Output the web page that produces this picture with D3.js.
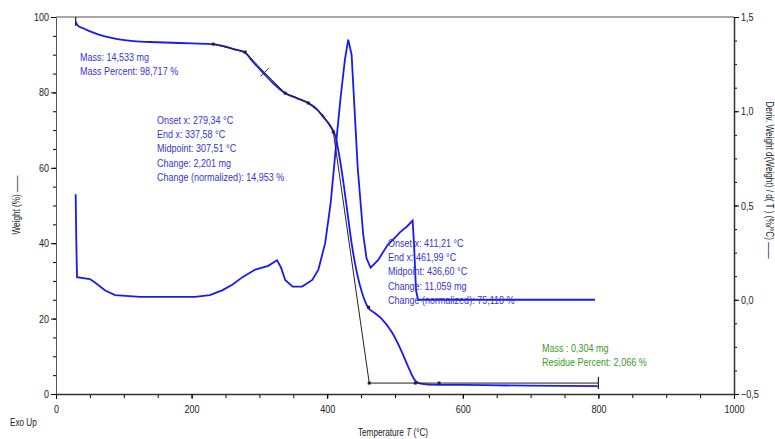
<!DOCTYPE html>
<meta charset="utf-8">
<html>
<head>
<style>
  body { margin: 0; background: #fff; }
  svg text { font-family: "Liberation Sans", Arial, sans-serif; }
  .tick text { font-size: 11px; fill: #222; }
  .note { font-size: 11px; fill: #3535d0; }
  .green { font-size: 11px; fill: #3a9a2a; }
</style>
</head>
<body>
<div id="tga"></div>
<script src="https://d3js.org/d3.v7.min.js"></script>
<script>
// weight curve (TGA), temperature in °C and weight in %
var tgaT = [29, 32, 40, 46, 60, 80, 114, 150, 200, 232, 262, 279, 291, 306, 320, 338, 355, 372, 385, 394, 405, 412, 418, 424, 430, 436, 444, 452, 460, 470, 480, 495, 508, 520, 528, 536, 550, 600, 700, 799];
var tgaW = [98.7, 97.8, 97, 96.5, 95.5, 94.5, 93.6, 93.3, 93.0, 92.8, 91.5, 90.5, 88, 85.1, 82.5, 79.8, 78.5, 77.2, 75.5, 73.5, 71, 68.5, 63, 56, 48, 40, 32, 26.5, 23, 21.5, 20, 16.5, 12, 7, 4, 2.8, 2.5, 2.4, 2.2, 2.1];

// derivative curve (DTG), %/°C
var dtgT = [29, 30, 31, 40, 50, 58, 72, 87, 124, 205, 227, 245, 260, 275, 294, 313, 326, 332, 338, 349, 363, 378, 387, 397, 405, 410, 415, 420, 426, 431, 436, 439, 445, 453, 458, 464, 475, 489, 500, 508, 518, 526, 528, 531, 534, 600, 700, 795];
var dtgD = [0.56, 0.3, 0.12, 0.115, 0.11, 0.09, 0.05, 0.025, 0.015, 0.015, 0.025, 0.05, 0.08, 0.12, 0.16, 0.18, 0.21, 0.17, 0.105, 0.07, 0.07, 0.105, 0.16, 0.30, 0.51, 0.70, 0.90, 1.08, 1.27, 1.38, 1.30, 1.10, 0.70, 0.35, 0.22, 0.17, 0.21, 0.29, 0.33, 0.36, 0.39, 0.42, 0.30, 0.05, 0.0, 0.0, 0.0, 0.0];

// step analysis construction line
var fitT = [232, 279, 307.5, 338, 355, 372, 394, 409, 462, 800];
var fitW = [92.8, 90.7, 85.3, 79.8, 78.6, 77.2, 74, 69.5, 2.9, 2.9];
var dotT = [232, 279, 338, 372, 409, 461, 462, 530, 565];
var dotW = [92.8, 90.7, 79.8, 77.2, 69.5, 23, 2.9, 2.9, 2.9];

var massNote = ["Mass: 14,533 mg", "Mass Percent: 98,717 %"];
var step1Note = ["Onset x: 279,34 °C", "End x: 337,58 °C", "Midpoint: 307,51 °C", "Change: 2,201 mg", "Change (normalized): 14,953 %"];
var step2Note = ["Onset x: 411,21 °C", "End x: 461,99 °C", "Midpoint: 436,60 °C", "Change: 11,059 mg", "Change (normalized): 75,118 %"];
var residueNote = ["Mass : 0,304 mg", "Residue Percent: 2,066 %"];

var xTicks = [0, 200, 400, 600, 800, 1000];
var yTicks = [0, 20, 40, 60, 80, 100];
var rTicks = [-0.5, 0.0, 0.5, 1.0, 1.5];

var width = 775, height = 439;
var narrow = 0.82; // the original uses a condensed face
var svg = d3.select("#tga").append("svg")
  .attr("width", width)
  .attr("height", height);

var x = d3.scaleLinear().domain([0, 1000]).range([56, 734]);
var y = d3.scaleLinear().domain([0, 100]).range([394, 17]);
var yr = d3.scaleLinear().domain([-0.5, 1.5]).range([394, 17]);

// top frame line
svg.append("line")
  .attr("x1", x(0)).attr("x2", x(1000))
  .attr("y1", y(100)).attr("y2", y(100))
  .attr("stroke", "#8a8a8a").attr("stroke-width", 1.5);

function comma(d) { return String(d).replace(".", ","); }
function squeeze(g) {
  g.selectAll(".tick text").each(function() {
    var t = d3.select(this);
    var tx = +t.attr("x") || 0;
    var ty = +t.attr("y") || 0;
    t.attr("x", tx / narrow).attr("transform", "scale(" + narrow + ",1)");
  });
}

// minor ticks
svg.append("g").attr("transform", "translate(0," + y(0) + ")")
  .call(d3.axisBottom(x).tickValues(d3.range(0, 1001, 50)).tickSize(4).tickFormat(""))
  .call(function(g) { g.select(".domain").remove(); });
svg.append("g").attr("transform", "translate(" + x(0) + ",0)")
  .call(d3.axisLeft(y).tickValues(d3.range(0, 101, 5)).tickSize(3).tickFormat(""))
  .call(function(g) { g.select(".domain").remove(); });
svg.append("g").attr("transform", "translate(" + x(1000) + ",0)")
  .call(d3.axisRight(yr).tickValues(d3.range(-0.5, 1.51, 0.125)).tickSize(3).tickFormat(""))
  .call(function(g) { g.select(".domain").remove(); });

// main axes
svg.append("g").attr("transform", "translate(0," + y(0) + ")")
  .call(d3.axisBottom(x).tickValues(xTicks).tickSize(5).tickSizeOuter(0).tickPadding(6).tickFormat(d3.format("d")))
  .call(function(g) { g.select(".domain").attr("stroke", "#333").attr("stroke-width", 1.5); })
  .call(squeeze);
svg.append("g").attr("transform", "translate(" + x(0) + ",0)")
  .call(d3.axisLeft(y).tickValues(yTicks).tickSize(5).tickSizeOuter(0).tickPadding(2))
  .call(function(g) { g.select(".domain").attr("stroke", "#555").attr("stroke-width", 1); })
  .call(squeeze);
svg.append("g").attr("transform", "translate(" + x(1000) + ",0)")
  .call(d3.axisRight(yr).tickValues(rTicks).tickSize(5).tickSizeOuter(0).tickPadding(2)
    .tickFormat(function(d) { return comma(d3.format(".1f")(d)); }))
  .call(function(g) { g.select(".domain").attr("stroke", "#333").attr("stroke-width", 1.5); })
  .call(squeeze);

// axis titles
svg.append("text")
  .attr("transform", "translate(20,205) rotate(-90) scale(" + narrow + ",1)")
  .attr("text-anchor", "middle").attr("font-size", "10px").attr("fill", "#222")
  .text("Weight (%) ——");
svg.append("text")
  .attr("transform", "translate(766,180) rotate(90) scale(" + narrow + ",1)")
  .attr("text-anchor", "middle").attr("font-size", "10px").attr("fill", "#222")
  .text("Deriv. Weight d(Weight) / d( T ) (%/°C) ——");
var xt = svg.append("text")
  .attr("transform", "translate(393,436) scale(" + narrow + ",1)")
  .attr("text-anchor", "middle").attr("font-size", "10px").attr("fill", "#222");
xt.append("tspan").text("Temperature ");
xt.append("tspan").attr("font-style", "italic").text("T");
xt.append("tspan").text(" (°C)");
svg.append("text")
  .attr("transform", "translate(10,426) scale(" + narrow + ",1)")
  .attr("font-size", "10px").attr("fill", "#222").text("Exo Up");

// curves
var tga = tgaT.map(function(t, i) { return [t, tgaW[i]]; });
var dtg = dtgT.map(function(t, i) { return [t, dtgD[i]]; });
var fit = fitT.map(function(t, i) { return [t, fitW[i]]; });

svg.append("path").datum(dtg)
  .attr("fill", "none").attr("stroke", "#1a1aee").attr("stroke-width", 1.8)
  .attr("d", d3.line().x(function(d) { return x(d[0]); }).y(function(d) { return yr(d[1]); }));

svg.append("path").datum(tga)
  .attr("fill", "none").attr("stroke", "#1a1aee").attr("stroke-width", 1.8)
  .attr("d", d3.line().curve(d3.curveMonotoneX).x(function(d) { return x(d[0]); }).y(function(d) { return y(d[1]); }));

svg.append("path").datum(fit)
  .attr("fill", "none").attr("stroke", "#222").attr("stroke-width", 1)
  .attr("d", d3.line().x(function(d) { return x(d[0]); }).y(function(d) { return y(d[1]); }));

svg.selectAll(".dot").data(dotT).enter().append("rect")
  .attr("x", function(d) { return x(d) - 1.5; })
  .attr("y", function(d, i) { return y(dotW[i]) - 1.5; })
  .attr("width", 3).attr("height", 3).attr("fill", "#222");

// start / end marks and midpoint cross
svg.append("line").attr("x1", x(29)).attr("x2", x(29))
  .attr("y1", y(100)).attr("y2", y(97.6)).attr("stroke", "#222").attr("stroke-width", 1.2);
svg.append("line").attr("x1", x(800)).attr("x2", x(800))
  .attr("y1", y(2.9) - 6).attr("y2", y(2.9) + 6).attr("stroke", "#222").attr("stroke-width", 1.2);
svg.append("line").attr("x1", x(307.5) - 4).attr("x2", x(307.5) + 4)
  .attr("y1", y(85.3) + 4).attr("y2", y(85.3) - 4).attr("stroke", "#222").attr("stroke-width", 1);

// annotation blocks
function block(lines, x0, y0, cls) {
  svg.append("g").selectAll("text").data(lines).enter().append("text")
    .attr("class", cls)
    .attr("transform", function(d, i) { return "translate(" + x0 + "," + (y0 + i * 14.2) + ") scale(" + narrow + ",1)"; })
    .text(function(d) { return d; });
}
block(massNote, 80, 61, "note");
block(step1Note, 157, 124, "note");
block(step2Note, 388, 247, "note");
block(residueNote, 542, 352, "green");
</script>
</body>
</html>
